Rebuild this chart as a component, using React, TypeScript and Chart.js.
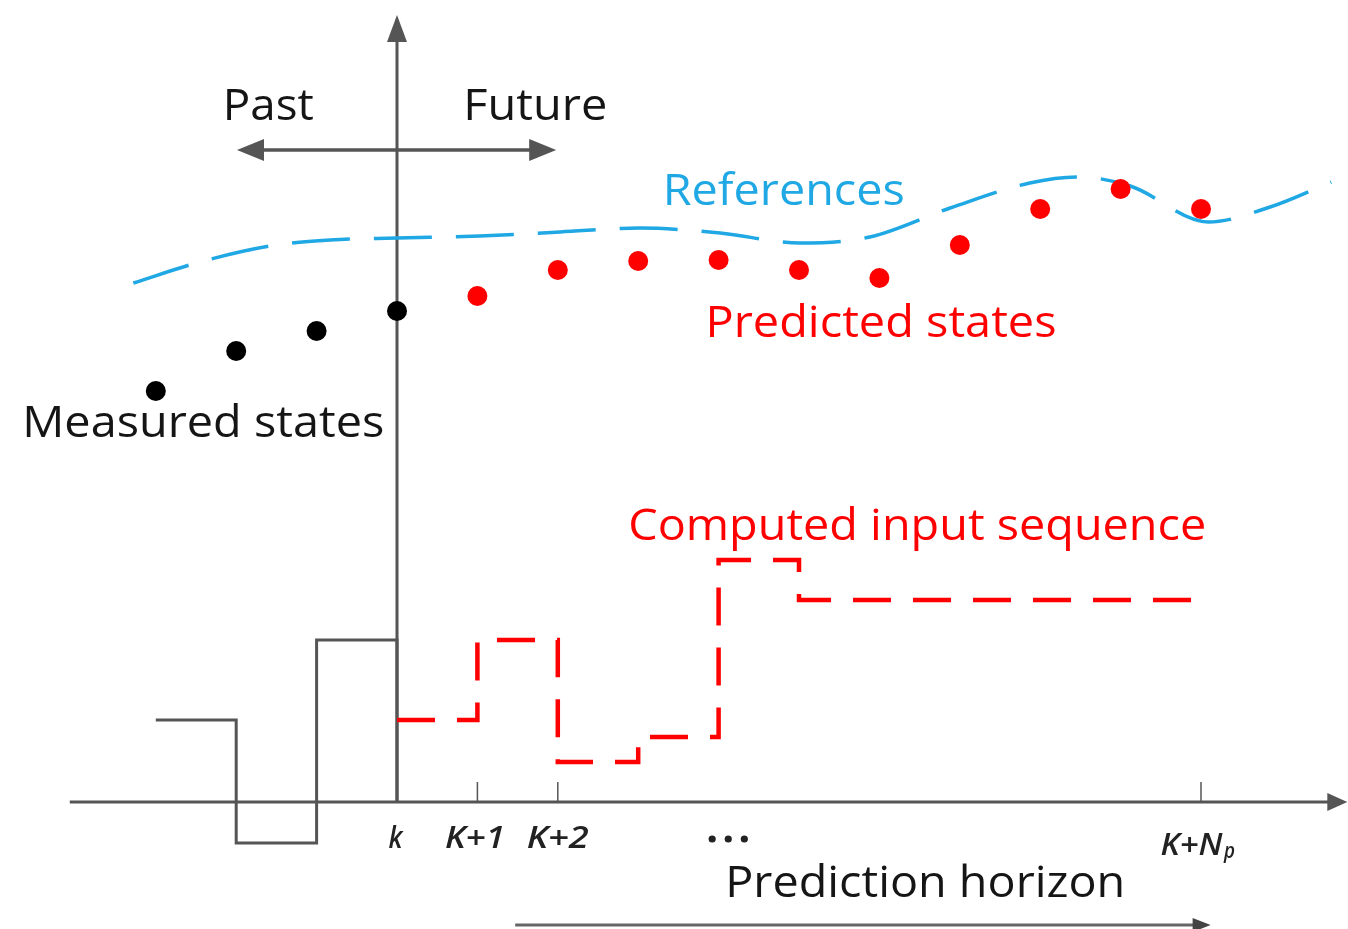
import React, { useEffect, useRef } from 'react';
import { Chart, registerables } from 'chart.js';

Chart.register(...registerables);

// ---- data (time steps relative to k, values in arbitrary state units) ----
const measuredSteps = [-3, -2, -1, 0];
const measuredStates = [4.11, 4.51, 4.71, 4.91];

const predictedSteps = [1, 2, 3, 4, 5, 6, 7, 8, 9, 10];
const predictedStates = [5.06, 5.32, 5.41, 5.42, 5.32, 5.24, 5.57, 5.93, 6.13, 5.93];

const referenceSteps = [-3.28, -2.45, -1.58, -0.83, 0, 1.03, 2.03, 3.02, 4.02, 5.01, 5.88, 6.88, 7.87, 8.47, 9.12, 10.09, 10.86, 11.62];
const referenceValues = [5.19, 5.4, 5.56, 5.62, 5.64, 5.66, 5.7, 5.74, 5.69, 5.59, 5.65, 5.94, 6.19, 6.25, 6.16, 5.8, 5.95, 6.2];

const pastInputSteps = [-3, -2, -1, 0];
const pastInputs = [0.82, -0.41, 1.62, 0];

const futureInputSteps = [0, 1, 2, 3, 4, 5, 10];
const futureInputs = [0.82, 1.62, 0.4, 0.65, 2.42, 2.02, 2.02];

const tickSteps = [1, 2, 10];
const tickLabels = ['k', 'K+1', 'K+2', 'K+N'];
const tickLabelSteps = [-0.02, 0.97, 2.0, 9.98];

// ---- annotation layout ----
const X_MIN = -397 / 80.4;
const X_MAX = (1348 - 397) / 80.4;
const Y_MIN = (802 - 929) / 100;
const Y_MAX = 802 / 100;

const GRAY = '#555555';
const RED = '#ff0000';
const BLUE = '#1fa8e4';
const INK = '#151515';

const FONT = '"Open Sans", Lato, sans-serif';

const textLabels = [
  { text: 'Past', t: -1.6, v: 6.82, w: 91, color: INK },
  { text: 'Future', t: 1.72, v: 6.82, w: 144, color: INK },
  { text: 'References', t: 4.81, v: 5.97, w: 242, color: BLUE },
  { text: 'Predicted states', t: 6.02, v: 4.65, w: 351, color: RED },
  { text: 'Measured states', t: -2.41, v: 3.65, w: 362, color: INK },
  { text: 'Computed input sequence', t: 6.47, v: 2.62, w: 578, color: RED },
  { text: 'Prediction horizon', t: 6.57, v: -0.95, w: 400, color: INK },
];

function drawArrowHead(ctx: CanvasRenderingContext2D, x: number, y: number, angle: number, len: number, half: number, color: string) {
  ctx.save();
  ctx.translate(x, y);
  ctx.rotate(angle);
  ctx.fillStyle = color;
  ctx.beginPath();
  ctx.moveTo(0, 0);
  ctx.lineTo(-len, -half);
  ctx.lineTo(-len, half);
  ctx.closePath();
  ctx.fill();
  ctx.restore();
}

function line(ctx: CanvasRenderingContext2D, x1: number, y1: number, x2: number, y2: number, color: string, width: number) {
  ctx.save();
  ctx.strokeStyle = color;
  ctx.lineWidth = width;
  ctx.beginPath();
  ctx.moveTo(x1, y1);
  ctx.lineTo(x2, y2);
  ctx.stroke();
  ctx.restore();
}

function drawFitted(ctx: CanvasRenderingContext2D, text: string, cx: number, by: number, width: number, font: string, color: string) {
  ctx.save();
  ctx.font = font;
  ctx.fillStyle = color;
  ctx.textBaseline = 'alphabetic';
  ctx.textAlign = 'left';
  const w = ctx.measureText(text).width;
  const s = width / w;
  ctx.translate(cx - width / 2, by);
  ctx.scale(s, 1);
  ctx.fillText(text, 0, 0);
  ctx.restore();
}

const diagramPlugin = {
  id: 'mpcDiagram',
  beforeDatasetsDraw(chart: any) {
    const ctx: CanvasRenderingContext2D = chart.ctx;
    const xs = chart.scales.x;
    const ys = chart.scales.y;
    const px = (t: number) => xs.getPixelForValue(t);
    const py = (v: number) => ys.getPixelForValue(v);

    // horizontal time axis
    line(ctx, px(-4.07), py(0), px(11.6), py(0), GRAY, 3);
    drawArrowHead(ctx, px(11.82), py(0), 0, 20, 9, GRAY);
    // vertical axis at k
    line(ctx, px(0), py(0), px(0), py(7.66), GRAY, 3);
    drawArrowHead(ctx, px(0), py(7.87), -Math.PI / 2, 27, 10, GRAY);
    // past / future arrow
    line(ctx, px(-1.7), py(6.52), px(1.7), py(6.52), GRAY, 3.5);
    drawArrowHead(ctx, px(-1.99), py(6.52), Math.PI, 27, 11, GRAY);
    drawArrowHead(ctx, px(1.98), py(6.52), 0, 27, 11, GRAY);
    // tick marks
    tickSteps.forEach((t) => line(ctx, px(t), py(0), px(t), py(0.2), GRAY, 1.5));
    // prediction horizon arrow
    line(ctx, px(1.47), py(-1.23), px(9.95), py(-1.23), '#666666', 3);
    drawArrowHead(ctx, px(10.12), py(-1.23), 0, 18, 7, '#444444');
  },
  afterDatasetsDraw(chart: any) {
    const ctx: CanvasRenderingContext2D = chart.ctx;
    const xs = chart.scales.x;
    const ys = chart.scales.y;
    const px = (t: number) => xs.getPixelForValue(t);
    const py = (v: number) => ys.getPixelForValue(v);

    textLabels.forEach((l) => {
      drawFitted(ctx, l.text, px(l.t), py(l.v), l.w, `43px ${FONT}`, l.color);
    });

    // tick labels
    const tickFont = `italic 600 30px ${FONT}`;
    const widths = [14, 60, 62, 62];
    tickLabels.forEach((txt, i) => {
      if (i < 3) {
        drawFitted(ctx, txt, px(tickLabelSteps[i]), py(-0.46), widths[i], tickFont, '#222222');
      } else {
        const cx = px(tickLabelSteps[i]);
        drawFitted(ctx, txt, cx - 8, py(-0.53), widths[i], tickFont, '#222222');
        drawFitted(ctx, 'p', cx + 30, py(-0.56), 11, `italic 600 21px ${FONT}`, '#222222');
      }
    });

    // ellipsis "..."
    ctx.save();
    ctx.fillStyle = '#222222';
    [-0.2, 0, 0.2].forEach((d) => {
      ctx.beginPath();
      ctx.arc(px(4.12 + d), py(-0.37), 3.6, 0, Math.PI * 2);
      ctx.fill();
    });
    ctx.restore();
  },
};

export default function App() {
  const canvasRef = useRef<HTMLCanvasElement | null>(null);

  useEffect(() => {
    const canvas = canvasRef.current;
    if (!canvas) return;
    const toPts = (xs: number[], ys: number[]) => xs.map((x, i) => ({ x, y: ys[i] }));

    const chart = new Chart(canvas, {
      type: 'scatter',
      data: {
        datasets: [
          {
            label: 'Measured states',
            data: toPts(measuredSteps, measuredStates),
            pointRadius: 10,
            pointBackgroundColor: '#000000',
            pointBorderWidth: 0,
            showLine: false,
            order: 0,
          },
          {
            label: 'Predicted states',
            data: toPts(predictedSteps, predictedStates),
            pointRadius: 10,
            pointBackgroundColor: RED,
            pointBorderWidth: 0,
            showLine: false,
            order: 0,
          },
          {
            label: 'References',
            data: toPts(referenceSteps, referenceValues),
            showLine: true,
            pointRadius: 0,
            borderColor: BLUE,
            borderWidth: 3.5,
            borderDash: [58, 24],
            cubicInterpolationMode: 'monotone',
            order: 2,
          },
          {
            label: 'Past input',
            data: toPts(pastInputSteps, pastInputs),
            showLine: true,
            pointRadius: 0,
            borderColor: GRAY,
            borderWidth: 3,
            stepped: 'before',
            order: 3,
          },
          {
            label: 'Computed input sequence',
            data: toPts(futureInputSteps, futureInputs),
            showLine: true,
            pointRadius: 0,
            borderColor: RED,
            borderWidth: 4.5,
            borderDash: [38, 22],
            stepped: 'before',
            order: 1,
          },
        ] as any,
      },
      options: {
        animation: false,
        responsive: false,
        devicePixelRatio: 1,
        events: [],
        layout: { padding: 0, autoPadding: false },
        plugins: { legend: { display: false }, tooltip: { enabled: false } },
        scales: {
          x: { type: 'linear', min: X_MIN, max: X_MAX, display: false },
          y: { type: 'linear', min: Y_MIN, max: Y_MAX, display: false },
        },
      } as any,
      plugins: [diagramPlugin],
    });
    return () => chart.destroy();
  }, []);

  return (
    <div style={{ position: 'fixed', left: 0, top: 0, width: 1348, height: 929, background: '#ffffff' }}>
      <canvas ref={canvasRef} width={1348} height={929} style={{ display: 'block' }} />
    </div>
  );
}
